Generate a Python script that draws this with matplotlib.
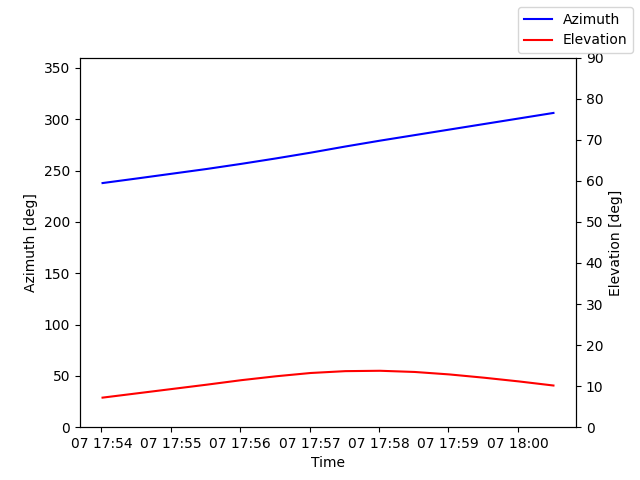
import matplotlib
matplotlib.use("Agg")
import matplotlib.pyplot as plt
import pandas as pd

times = pd.date_range("2024-01-07 17:54:01", periods=14, freq="30s")
azimuth = [237.8, 242.3, 246.9, 251.5, 256.5, 261.8, 267.4, 273.4,
           279.1, 284.5, 289.9, 295.3, 300.7, 306.1]
elevation = [7.2, 8.25, 9.3, 10.35, 11.45, 12.4, 13.2, 13.65,
             13.74, 13.45, 12.85, 12.05, 11.15, 10.15]

fig, ax = plt.subplots(figsize=(6.4, 4.8), dpi=100)
ax.plot(times, azimuth, color="blue", label="Azimuth")
ax.set_ylim(0, 360)
ax.set_xlabel("Time")
ax.set_ylabel("Azimuth [deg]")
ax2 = ax.twinx()
ax2.plot(times, elevation, color="red", label="Elevation")
ax2.set_ylim(0, 90)
ax2.set_ylabel("Elevation [deg]")
fig.legend(loc="upper right")
fig.savefig("out.png")
